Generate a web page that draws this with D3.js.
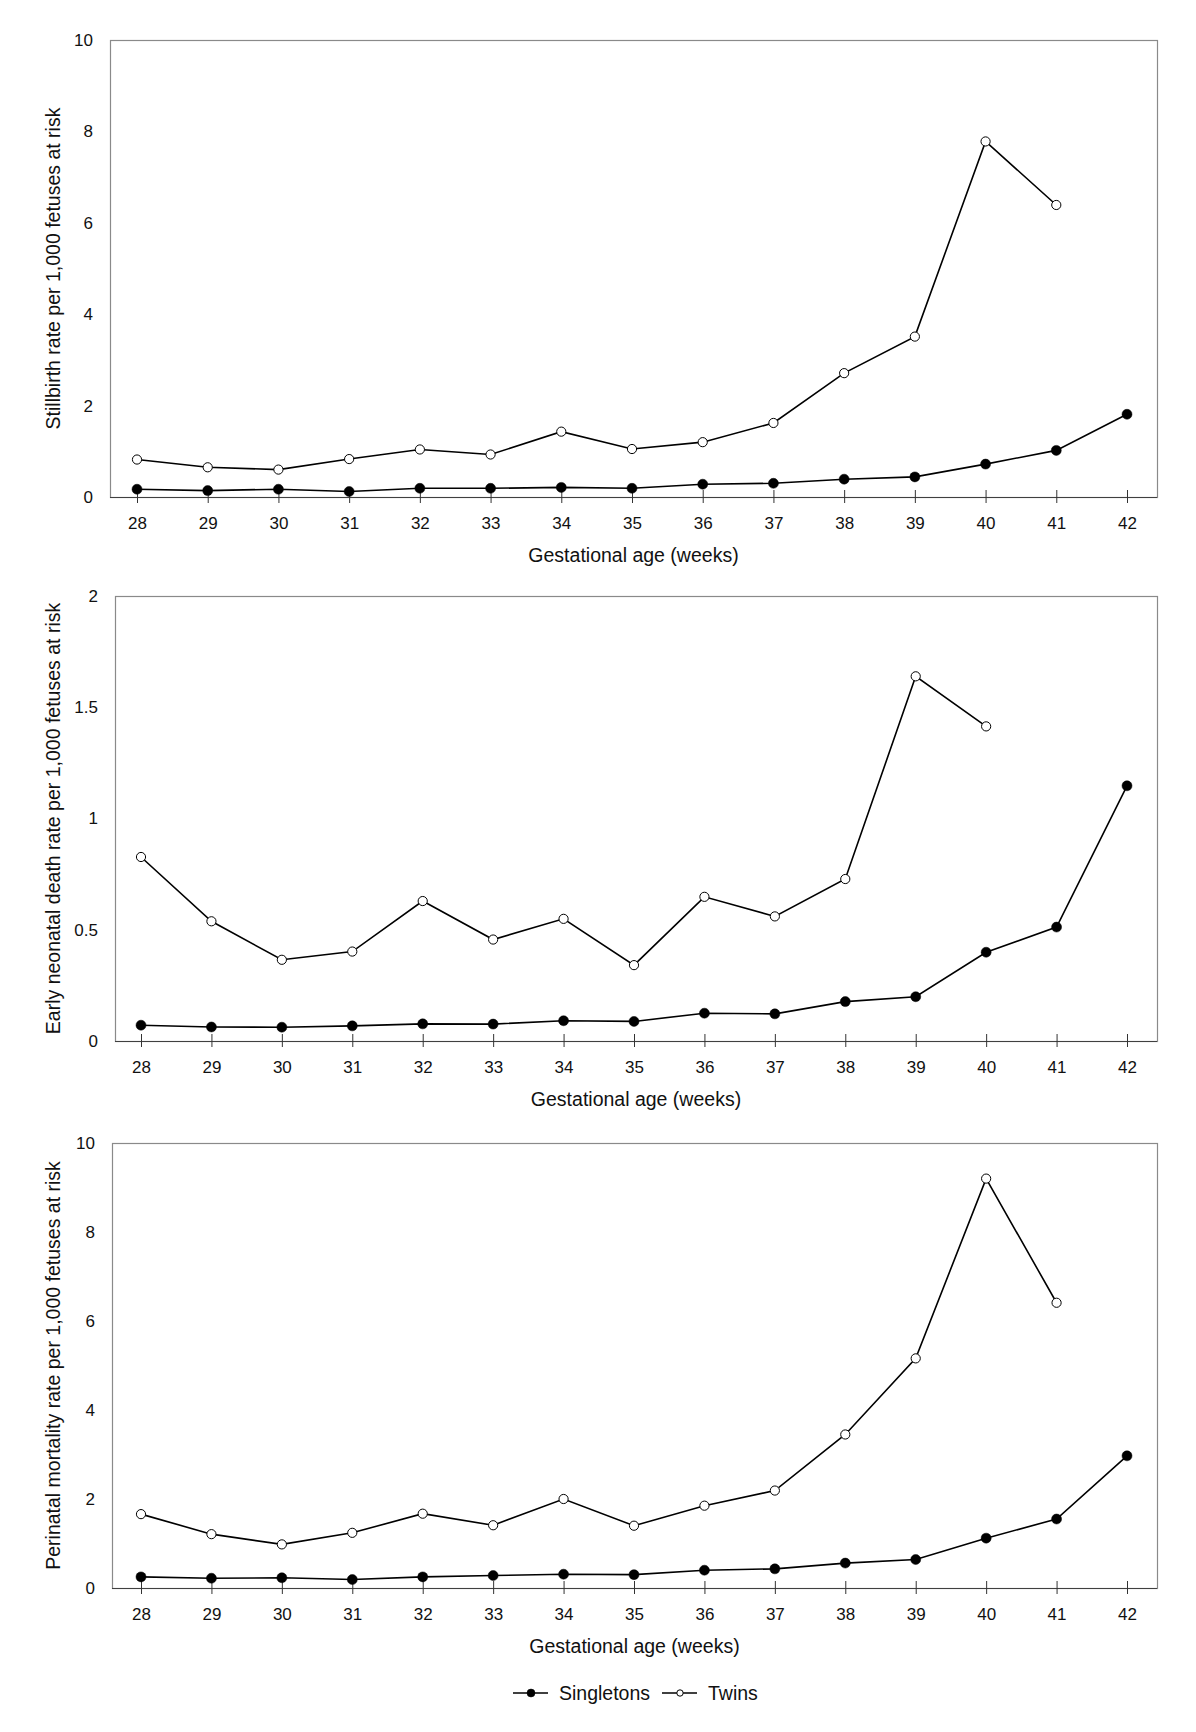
<!DOCTYPE html>
<html lang="en">

<head>
    <meta charset="utf-8">
    <style>
        body { margin: 0; background: #fff; }
        svg { display: block; font-family: "Liberation Sans", Arial, Helvetica, sans-serif; }
    </style>
</head>

<body>
    <svg width="1196" height="1732"></svg>
    <script src="https://d3js.org/d3.v7.min.js"></script>
    <script type="text/javascript">
    // gestational age in weeks
    var weeks = [28, 29, 30, 31, 32, 33, 34, 35, 36, 37, 38, 39, 40, 41, 42];

    // stillbirth rate per 1,000 fetuses at risk
    var stillSingletons = [0.17, 0.14, 0.17, 0.12, 0.19, 0.19, 0.21, 0.19, 0.28, 0.30, 0.39, 0.44, 0.72, 1.02, 1.81];
    var stillTwins = [0.82, 0.65, 0.60, 0.83, 1.04, 0.93, 1.43, 1.05, 1.20, 1.62, 2.71, 3.51, 7.78, 6.39, null];

    // early neonatal death rate per 1,000 fetuses at risk
    var neoSingletons = [0.071, 0.063, 0.062, 0.068, 0.077, 0.076, 0.091, 0.088, 0.125, 0.122, 0.177, 0.199, 0.399, 0.512, 1.147];
    var neoTwins = [0.827, 0.538, 0.365, 0.402, 0.629, 0.456, 0.549, 0.341, 0.648, 0.560, 0.728, 1.639, 1.414, null, null];

    // perinatal mortality rate per 1,000 fetuses at risk
    var periSingletons = [0.25, 0.22, 0.23, 0.19, 0.25, 0.28, 0.31, 0.30, 0.40, 0.43, 0.56, 0.64, 1.12, 1.55, 2.97];
    var periTwins = [1.66, 1.21, 0.98, 1.24, 1.67, 1.41, 2.00, 1.40, 1.85, 2.19, 3.45, 5.16, 9.20, 6.41, null];

    // y tick labels
    var rateTicks = [0, 2, 4, 6, 8, 10];
    var neoTicks = [0, 0.5, 1, 1.5, 2];

    var seriesNames = ["Singletons", "Twins"];
    var xTitle = "Gestational age (weeks)";

    var svg = d3.select("svg");

    var panels = [
        { title: "Stillbirth rate per 1,000 fetuses at risk", single: stillSingletons, twins: stillTwins,
          ticks: rateTicks, yMax: 10, top: 40, bottom: 497, left: 110, x0: 137 },
        { title: "Early neonatal death rate per 1,000 fetuses at risk", single: neoSingletons, twins: neoTwins,
          ticks: neoTicks, yMax: 2, top: 596, bottom: 1041, left: 115, x0: 141 },
        { title: "Perinatal mortality rate per 1,000 fetuses at risk", single: periSingletons, twins: periTwins,
          ticks: rateTicks, yMax: 10, top: 1143, bottom: 1588, left: 112, x0: 141 }
    ];

    var right = 1157;

    panels.forEach(function(p) {
        var x = d3.scaleLinear().domain([28, 42]).range([p.x0, 1127]);
        var y = d3.scaleLinear().domain([0, p.yMax]).range([p.bottom, p.top]);
        var g = svg.append("g");

        // frame
        g.append("rect")
            .attr("x", p.left + 0.5)
            .attr("y", p.top + 0.5)
            .attr("width", right - p.left)
            .attr("height", p.bottom - p.top)
            .attr("fill", "none")
            .attr("stroke", "#8a8a8a")
            .attr("stroke-width", 1.2);

        // x axis
        var xAxis = d3.axisBottom(x).tickValues(weeks).tickSize(0).tickFormat(d3.format("d"));
        var ax = g.append("g")
            .attr("transform", "translate(0," + p.bottom + ")")
            .call(xAxis);
        ax.select(".domain")
            .attr("d", "M" + p.left + ",0.5H" + right)
            .attr("stroke", "#404040")
            .attr("stroke-width", 1.2);
        ax.selectAll(".tick line")
            .attr("y1", -7)
            .attr("y2", 6)
            .attr("stroke", "#333");
        ax.selectAll(".tick text")
            .attr("y", 27)
            .attr("dy", "0.32em")
            .attr("font-size", 17)
            .attr("font-family", null)
            .attr("fill", "#111");

        g.append("text")
            .attr("x", (p.left + right) / 2)
            .attr("y", p.bottom + 58)
            .attr("dy", "0.35em")
            .attr("text-anchor", "middle")
            .attr("font-size", 19.5)
            .attr("fill", "#111")
            .text(xTitle);

        // y axis labels only, no tick marks
        var yAxis = d3.axisLeft(y).tickValues(p.ticks).tickSize(0).tickFormat(function(d) { return String(d); });
        var ay = g.append("g")
            .attr("transform", "translate(" + (p.left - 17) + ",0)")
            .call(yAxis);
        ay.select(".domain").remove();
        ay.selectAll(".tick text")
            .attr("x", 0)
            .attr("font-size", 17)
            .attr("font-family", null)
            .attr("fill", "#111");

        g.append("text")
            .attr("transform", "translate(53," + (p.top + p.bottom) / 2 + ") rotate(-90)")
            .attr("dy", "0.35em")
            .attr("text-anchor", "middle")
            .attr("font-size", 19.5)
            .attr("fill", "#111")
            .text(p.title);

        var line = d3.line()
            .defined(function(d) { return d.v != null; })
            .x(function(d) { return x(d.w); })
            .y(function(d) { return y(d.v); });

        [p.twins, p.single].forEach(function(vals, i) {
            var pts = weeks.map(function(w, k) { return { w: w, v: vals[k] }; });
            var filled = vals === p.single;
            g.append("path")
                .datum(pts)
                .attr("fill", "none")
                .attr("stroke", "#000")
                .attr("stroke-width", 1.6)
                .attr("d", line);
            g.selectAll(".pt" + i)
                .data(pts.filter(function(d) { return d.v != null; }))
                .enter().append("circle")
                .attr("cx", function(d) { return x(d.w); })
                .attr("cy", function(d) { return y(d.v); })
                .attr("r", filled ? 5 : 4.6)
                .attr("fill", filled ? "#000" : "#fff")
                .attr("stroke", "#000")
                .attr("stroke-width", filled ? 0.5 : 1);
        });
    });

    // legend
    var legend = svg.append("g").attr("transform", "translate(0,1693)");
    var legendItems = [
        { name: seriesNames[0], x: 513, filled: true },
        { name: seriesNames[1], x: 662, filled: false }
    ];
    legendItems.forEach(function(d) {
        legend.append("line")
            .attr("x1", d.x).attr("x2", d.x + 35)
            .attr("y1", 0).attr("y2", 0)
            .attr("stroke", "#000")
            .attr("stroke-width", 1.6);
        legend.append("circle")
            .attr("cx", d.x + 18).attr("cy", 0)
            .attr("r", d.filled ? 4 : 3.2)
            .attr("fill", d.filled ? "#000" : "#fff")
            .attr("stroke", "#000")
            .attr("stroke-width", d.filled ? 0.5 : 1);
        legend.append("text")
            .attr("x", d.x + 46)
            .attr("y", 0)
            .attr("dy", "0.35em")
            .attr("font-size", 19.5)
            .attr("fill", "#111")
            .text(d.name);
    });
    </script>
</body>

</html>
